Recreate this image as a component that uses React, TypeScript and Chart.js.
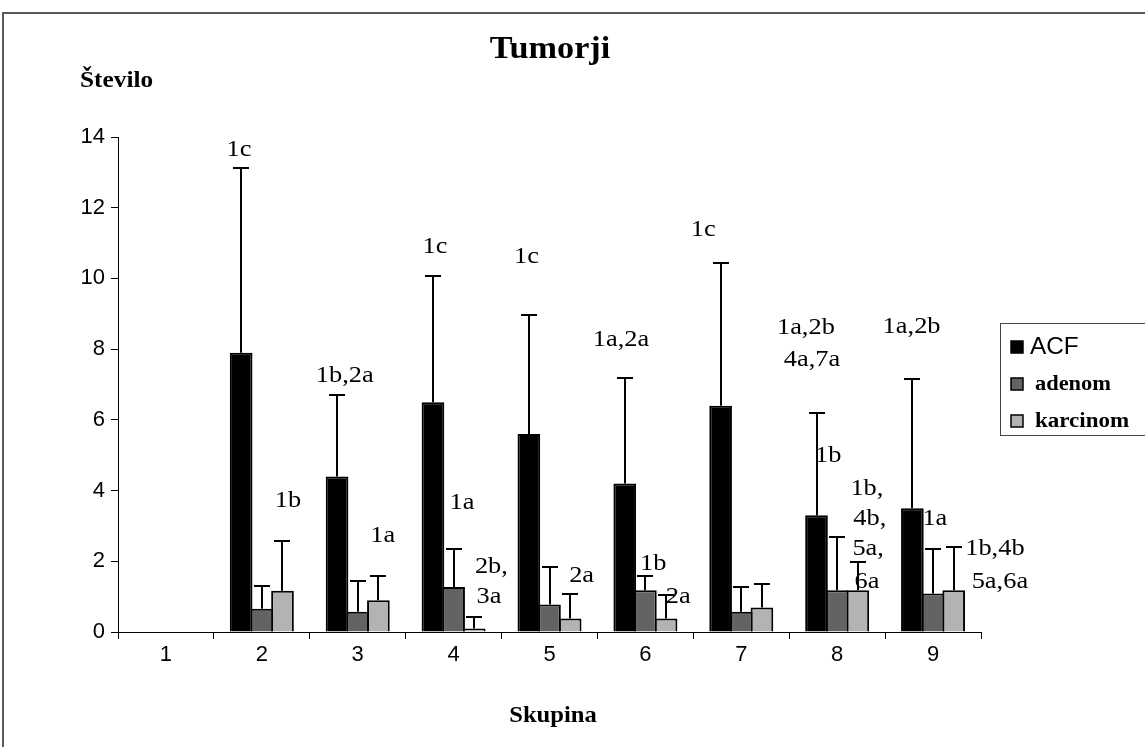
import React, { useEffect, useRef } from 'react';
import { Chart, registerables } from 'chart.js';

Chart.register(...registerables);

// ---- data ----
const groups = ['1', '2', '3', '4', '5', '6', '7', '8', '9'];
const seriesNames = ['ACF', 'adenom', 'karcinom'];
const seriesColors = ['#000000', '#636363', '#b3b3b3'];

const acfMean = [0, 7.9, 4.4, 6.5, 5.6, 4.2, 6.4, 3.3, 3.5];
const acfSd = [0, 5.22, 2.31, 3.58, 3.36, 2.99, 4.05, 2.88, 3.66];
const adenomMean = [0, 0.66, 0.57, 1.27, 0.78, 1.18, 0.57, 1.18, 1.09];
const adenomSd = [0, 0.65, 0.87, 1.08, 1.06, 0.4, 0.7, 1.51, 1.27];
const karcinomMean = [0, 1.17, 0.9, 0.1, 0.38, 0.38, 0.69, 1.18, 1.18];
const karcinomSd = [0, 1.39, 0.68, 0.32, 0.69, 0.67, 0.66, 0.8, 1.23];

const yTicks = [0, 2, 4, 6, 8, 10, 12, 14];

const titleText = 'Tumorji';
const yTitleText = 'Število';
const xTitleText = 'Skupina';

// annotation labels: text, position in category units, position in value units
const annotText = ['1c', '1b', '1b,2a', '1a', '1c', '1a', '2b,', '3a', '1c', '2a', '1a,2a', '1b', '2a', '1c', '1a,2b', '4a,7a', '1b', '1b,', '4b,', '5a,', '6a', '1a,2b', '1a', '1b,4b', '5a,6a'];
const annotCat = [0.762, 1.273, 1.865, 2.26, 2.806, 3.087, 3.394, 3.369, 3.761, 4.335, 4.745, 5.082, 5.343, 5.603, 6.674, 6.737, 6.907, 7.31, 7.341, 7.323, 7.31, 7.776, 8.019, 8.645, 8.697];
const annotVal = [13.63, 3.71, 7.26, 2.72, 10.9, 3.66, 1.84, 1.0, 10.61, 1.58, 8.26, 1.94, 1.01, 11.38, 8.61, 7.69, 5.0, 4.06, 3.21, 2.36, 1.42, 8.63, 3.21, 2.36, 1.42];

const means = [acfMean, adenomMean, karcinomMean];
const sds = [acfSd, adenomSd, karcinomSd];

const SERIF = '"Liberation Serif", "Times New Roman", serif';
const SANS = '"Liberation Sans", Arial, sans-serif';

function stretchedText(ctx: CanvasRenderingContext2D, text: string, x: number, y: number, sx: number) {
  ctx.save();
  ctx.translate(x, y);
  ctx.scale(sx, 1);
  ctx.fillText(text, 0, 0);
  ctx.restore();
}

const customPlugin = {
  id: 'customDraw',
  beforeDraw(chart: any) {
    const ctx = chart.ctx;
    ctx.save();
    ctx.fillStyle = '#ffffff';
    ctx.fillRect(0, 0, chart.width, chart.height);
    ctx.strokeStyle = '#5a5a5a';
    ctx.lineWidth = 2;
    ctx.beginPath();
    ctx.moveTo(3, chart.height + 5);
    ctx.lineTo(3, 13);
    ctx.lineTo(chart.width + 5, 13);
    ctx.stroke();
    ctx.restore();
  },
  afterDatasetsDraw(chart: any) {
    const ctx = chart.ctx;
    const yScale = chart.scales.y;
    ctx.save();
    ctx.strokeStyle = '#000';
    ctx.lineWidth = 2;
    for (let d = 0; d < means.length; d++) {
      const meta = chart.getDatasetMeta(d);
      meta.data.forEach((bar: any, i: number) => {
        const m = means[d][i];
        const s = sds[d][i];
        if (!s) return;
        const x = Math.round(bar.x);
        const y0 = yScale.getPixelForValue(m);
        const y1 = Math.round(yScale.getPixelForValue(m + s));
        ctx.beginPath();
        ctx.moveTo(x, y0);
        ctx.lineTo(x, y1);
        ctx.moveTo(x - 8, y1);
        ctx.lineTo(x + 8, y1);
        ctx.stroke();
      });
    }
    ctx.restore();
  },
  afterDraw(chart: any) {
    const ctx = chart.ctx;
    const xScale = chart.scales.x;
    const yScale = chart.scales.y;
    const catW = xScale.getPixelForValue(1) - xScale.getPixelForValue(0);
    ctx.save();
    ctx.fillStyle = '#000';
    // title
    ctx.font = `bold 32px ${SERIF}`;
    ctx.textAlign = 'center';
    ctx.textBaseline = 'alphabetic';
    stretchedText(ctx, titleText, 550, 58, 1.07);
    // y title
    ctx.font = `bold 23px ${SERIF}`;
    ctx.textAlign = 'left';
    stretchedText(ctx, yTitleText, 80, 87, 1.1);
    // x title
    ctx.textAlign = 'center';
    stretchedText(ctx, xTitleText, 553, 722, 1.07);
    // annotations
    ctx.font = `24px ${SERIF}`;
    ctx.textAlign = 'center';
    ctx.textBaseline = 'middle';
    for (let k = 0; k < annotText.length; k++) {
      const x = xScale.getPixelForValue(0) + annotCat[k] * catW;
      const y = yScale.getPixelForValue(annotVal[k]);
      stretchedText(ctx, annotText[k], x, y, 1.1);
    }
    // legend
    ctx.strokeStyle = '#444';
    ctx.lineWidth = 1;
    ctx.strokeRect(1000.5, 323.5, 200, 112);
    const legendY = [347, 384, 421];
    const legendFonts = [`23px ${SANS}`, `bold 20px ${SERIF}`, `bold 20px ${SERIF}`];
    const legendTextX = [1030, 1035, 1035];
    const legendStretch = [1.06, 1.12, 1.15];
    for (let k = 0; k < seriesNames.length; k++) {
      const cy = legendY[k];
      ctx.fillStyle = seriesColors[k];
      ctx.fillRect(1011, cy - 6, 12, 12);
      ctx.strokeStyle = '#000';
      ctx.lineWidth = 1.5;
      ctx.strokeRect(1011, cy - 6, 12, 12);
      ctx.fillStyle = '#000';
      ctx.font = legendFonts[k];
      ctx.textAlign = 'left';
      ctx.textBaseline = 'middle';
      stretchedText(ctx, seriesNames[k], legendTextX[k], cy + 1, legendStretch[k]);
    }
    ctx.restore();
  },
};

export default function App() {
  const canvasRef = useRef<HTMLCanvasElement | null>(null);

  useEffect(() => {
    if (!canvasRef.current) return;
    const chart = new Chart(canvasRef.current, {
      type: 'bar',
      data: {
        labels: groups,
        datasets: seriesNames.map((name, d) => ({
          label: name,
          data: means[d],
          backgroundColor: seriesColors[d],
          borderColor: '#000',
          borderWidth: 2,
          borderSkipped: 'bottom',
          barPercentage: 1.097,
          categoryPercentage: 0.6465,
        })),
      },
      options: {
        responsive: false,
        animation: false,
        devicePixelRatio: 1,
        layout: { padding: { top: 137, right: 164, bottom: 0, left: 0 } },
        plugins: {
          legend: { display: false },
          title: { display: false },
          tooltip: { enabled: false },
        },
        scales: {
          x: {
            afterFit: (scale: any) => {
              scale.height = 115;
            },
            grid: {
              offset: true,
              drawOnChartArea: false,
              drawTicks: true,
              tickLength: 7,
              color: '#000',
              lineWidth: 1,
            },
            border: { display: true, color: '#000', width: 1 },
            ticks: {
              color: '#000',
              font: { family: SANS, size: 22 },
              padding: 3,
              maxRotation: 0,
            },
          },
          y: {
            min: 0,
            max: 14,
            afterFit: (scale: any) => {
              scale.width = 118;
            },
            afterBuildTicks: (scale: any) => {
              scale.ticks = yTicks.map((v) => ({ value: v }));
            },
            grid: {
              drawOnChartArea: false,
              drawTicks: true,
              tickLength: 7,
              color: '#000',
              lineWidth: 1,
            },
            border: { display: true, color: '#000', width: 1 },
            ticks: {
              color: '#000',
              font: { family: SANS, size: 22 },
              padding: 6,
            },
          },
        },
      },
      plugins: [customPlugin],
    });
    return () => chart.destroy();
  }, []);

  return (
    <div style={{ position: 'absolute', left: 0, top: 0, width: 1145, height: 747, background: '#fff' }}>
      <canvas ref={canvasRef} width={1145} height={747} style={{ display: 'block', width: 1145, height: 747 }} />
    </div>
  );
}
